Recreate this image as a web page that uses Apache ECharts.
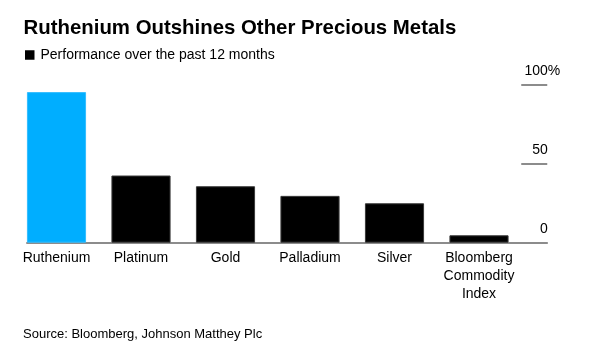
<!DOCTYPE html>
<html>
<head>
<meta charset="utf-8">
<script src="https://cdn.jsdelivr.net/npm/echarts@6/dist/echarts.min.js"></script>
<style>
html,body{margin:0;padding:0;background:#fff;}
#chart{width:591px;height:346px;}
</style>
</head>
<body>
<div id="chart"></div>
<script>
var categories = ['Ruthenium', 'Platinum', 'Gold', 'Palladium', 'Silver', 'Bloomberg\nCommodity\nIndex'];
var performance = [95.5, 42.6, 35.8, 29.7, 25.0, 4.7];
var yTicks = [0, 50, 100];
var highlighted = 'Ruthenium';

var FONT = '"Liberation Sans", Arial, Helvetica, sans-serif';
var chart = echarts.init(document.getElementById('chart'), null, {renderer: 'canvas'});

var seriesData = performance.map(function (v, i) {
  var hl = categories[i] === highlighted;
  return {
    value: v,
    itemStyle: {
      color: hl ? '#00aeff' : '#000000',
      borderColor: hl ? '#33bdff' : '#3a3a3a',
      borderWidth: 1
    }
  };
});

chart.setOption({
  animation: false,
  backgroundColor: '#ffffff',
  title: {
    text: 'Ruthenium Outshines Other Precious Metals',
    left: 23.5,
    top: 18,
    padding: 0,
    textStyle: {fontFamily: FONT, fontSize: 20.4, fontWeight: 'bold', color: '#000', lineHeight: 20}
  },
  legend: {
    left: 25,
    top: 48,
    padding: 0,
    icon: 'rect',
    itemWidth: 9.5,
    itemHeight: 9.5,
    selectedMode: false,
    data: ['Performance over the past 12 months'],
    textStyle: {fontFamily: FONT, fontSize: 14, color: '#000', padding: [0, 0, 0, 1]}
  },
  graphic: [{
    type: 'text',
    left: 23,
    top: 328,
    style: {text: 'Source: Bloomberg, Johnson Matthey Plc', font: '13px ' + FONT, fill: '#000'}
  }],
  grid: [
    {left: 14.25, right: 69.75, top: 85, bottom: 103.3, containLabel: false},
    {left: 27, right: 44, top: 85, bottom: 103.3, containLabel: false}
  ],
  xAxis: [{
    type: 'category',
    gridIndex: 0,
    data: categories,
    axisLine: {show: false},
    axisTick: {show: false},
    axisLabel: {
      interval: 0,
      margin: 6,
      fontFamily: FONT,
      fontSize: 14,
      lineHeight: 18,
      color: '#000'
    }
  }, {
    type: 'category',
    gridIndex: 1,
    data: categories,
    axisLine: {show: true, lineStyle: {color: '#8c8c8c', width: 2}},
    axisTick: {show: false},
    axisLabel: {show: false}
  }],
  yAxis: [{
    type: 'value',
    gridIndex: 0,
    position: 'right',
    min: yTicks[0],
    max: yTicks[yTicks.length - 1],
    interval: yTicks[1] - yTicks[0],
    splitLine: {show: false},
    axisLine: {show: false},
    axisTick: {show: true, inside: false, length: 26, lineStyle: {color: '#8c8c8c', width: 2}},
    axisLabel: {
      margin: 39,
      align: 'right',
      verticalAlign: 'middle',
      padding: [0, 0, 28, 0],
      fontFamily: FONT,
      fontSize: 14,
      color: '#000',
      formatter: function (v) {
        return v === yTicks[yTicks.length - 1] ? '{n|' + v + '%}' : '{n|' + v + '}{s|}';
      },
      rich: {
        n: {fontFamily: FONT, fontSize: 14, color: '#000'},
        s: {width: 12.5, fontSize: 14}
      }
    }
  }, {
    type: 'value',
    gridIndex: 1,
    min: yTicks[0],
    max: yTicks[yTicks.length - 1],
    show: false
  }],
  series: [{
    name: 'Performance over the past 12 months',
    type: 'bar',
    xAxisIndex: 0,
    yAxisIndex: 0,
    data: seriesData,
    barCategoryGap: '30%',
    itemStyle: {color: '#000'}
  }]
});
</script>
</body>
</html>
